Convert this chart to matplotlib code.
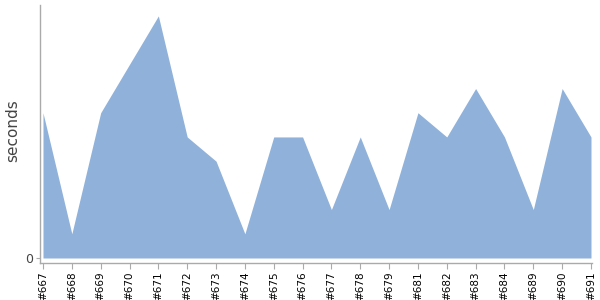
import matplotlib
matplotlib.use("Agg")
import matplotlib.pyplot as plt

builds = ['#667', '#668', '#669', '#670', '#671', '#672', '#673', '#674', '#675', '#676',
          '#677', '#678', '#679', '#681', '#682', '#683', '#684', '#689', '#690', '#691']
seconds = [6, 1, 6, 8, 10, 5, 4, 1, 5, 5,
           2, 5, 2, 6, 5, 7, 5, 2, 7, 5]


def main():
    fig = plt.figure(figsize=(6, 3), dpi=100)
    ax = fig.add_axes([40/600, 1-263/300, 552/600, 258/300])

    x = list(range(len(builds)))
    ax.fill_between(x, 0, seconds, color='#8fb1da', linewidth=0)

    ax.set_xlim(-0.104, len(builds) - 1 + 0.035)
    ax.set_ylim(-0.207, 10.45)

    ax.set_xticks(x)
    ax.set_xticklabels(builds, rotation=90, fontsize=7.5, color='black')
    ax.set_yticks([0])
    ax.set_yticklabels(['0'], fontsize=9, color='#444444')

    for s in ['top', 'right']:
        ax.spines[s].set_visible(False)
    for s in ['left', 'bottom']:
        ax.spines[s].set_color('#aaaaaa')
        ax.spines[s].set_linewidth(1)
    ax.tick_params(axis='x', length=4, color='#aaaaaa', pad=2)
    ax.tick_params(axis='y', length=3, color='#aaaaaa', pad=2)

    ax.set_ylabel('seconds', fontsize=11, color='#444444')
    ax.yaxis.set_label_coords(-0.036, 0.515)

    fig.savefig('out.png', dpi=100)


if __name__ == "__main__":
    main()
